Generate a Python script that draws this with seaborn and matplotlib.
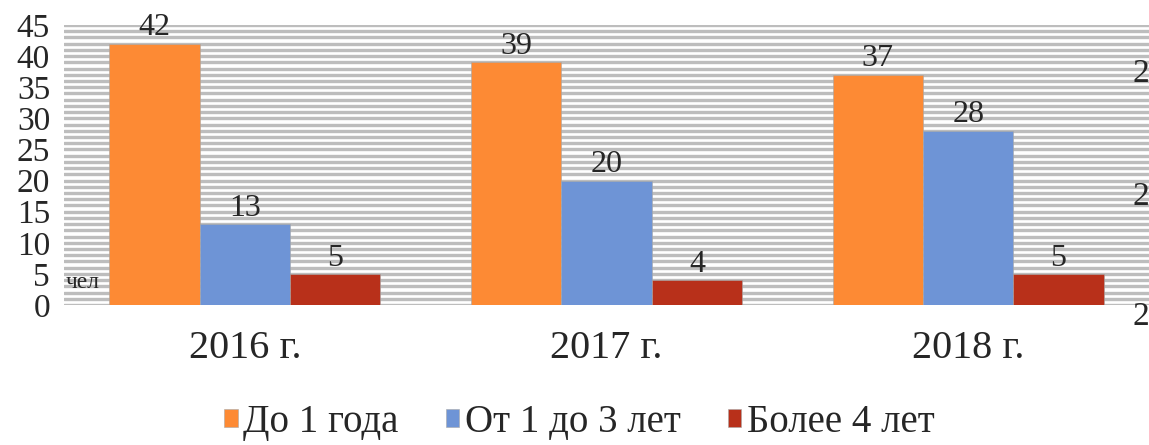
import pandas as pd
import seaborn as sns
import matplotlib.pyplot as plt
from matplotlib.ticker import MultipleLocator

years = ["2016 г.", "2017 г.", "2018 г."]
groups = ["До 1 года", "От 1 до 3 лет", "Более 4 лет"]
up_to_1 = [42, 39, 37]
from_1_to_3 = [13, 20, 28]
over_4 = [5, 4, 5]
colors = ["#FD8A34", "#6E94D6", "#B8301A"]

df = pd.DataFrame({
    "year": years * 3,
    "group": [groups[0]] * 3 + [groups[1]] * 3 + [groups[2]] * 3,
    "value": up_to_1 + from_1_to_3 + over_4,
})

sns.set_style("white")
plt.rcParams['font.family'] = ['Liberation Serif', 'DejaVu Serif']

fig = plt.figure(figsize=(11.49, 4.45), dpi=100)
ax = fig.add_axes([64 / 1149, 1 - 305 / 445, 1 - 64 / 1149, 280 / 445])

sns.barplot(data=df, x="year", y="value", hue="group", palette=colors,
            width=0.75, gap=0, saturation=1, ax=ax, zorder=3,
            edgecolor="#a8a8a8", linewidth=0.4)

ax.set_ylim(0, 45)
ax.set_xlim(-0.5, 2.5)
ax.yaxis.set_major_locator(MultipleLocator(5))
ax.yaxis.set_minor_locator(MultipleLocator(1))
ax.grid(which="both", axis="y", color="#bdbdbd", linewidth=2.4, zorder=0)
ax.set_axisbelow(True)
for s in ax.spines.values():
    s.set_visible(False)
ax.tick_params(axis="y", which="both", length=0, labelsize=24, pad=10)
ax.tick_params(axis="x", length=0, labelsize=29, pad=18)
ax.set_xlabel("")
ax.set_ylabel("")

for c in ax.containers:
    ax.bar_label(c, fontsize=23, padding=1)

# stray text fragments from the source document
ax.text(-0.495, 3.6, "чел", fontsize=17, zorder=1, va="center", ha="left")
for yy in [74, 197, 317]:
    fig.text(1.0, 1 - yy / 445, "2", fontsize=24, ha="right", va="center")

ax.legend(loc="center", bbox_to_anchor=(0.475, -0.42), ncol=3, frameon=False,
          fontsize=28, handlelength=0.35, handleheight=0.35, handletextpad=0.15,
          columnspacing=1.2)

fig.savefig("out.png", dpi=100)
